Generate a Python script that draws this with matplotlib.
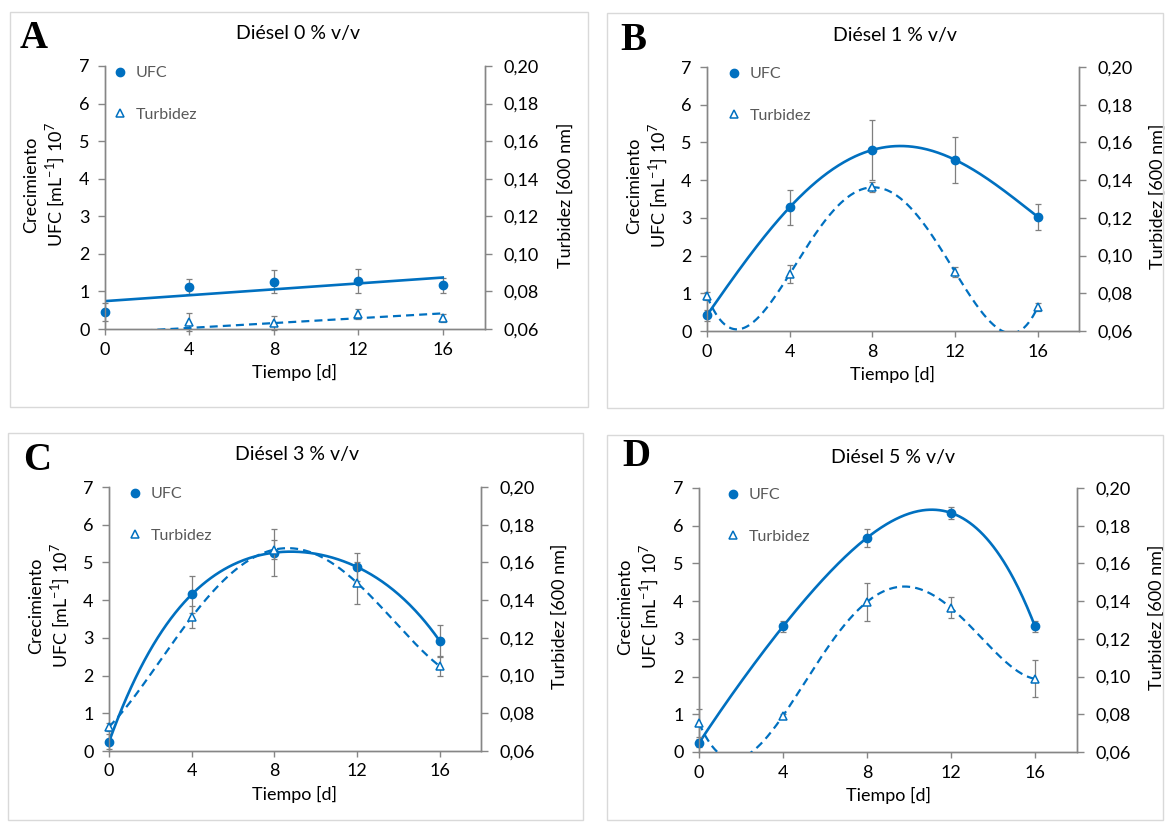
import numpy as np
import matplotlib
matplotlib.use("Agg")
import matplotlib.pyplot as plt
from matplotlib.lines import Line2D
from matplotlib.patches import Rectangle
from matplotlib.ticker import FuncFormatter

plt.rcParams['font.family'] = ['Lato', 'DejaVu Sans']
plt.rcParams['mathtext.fontset'] = 'custom'
plt.rcParams['mathtext.rm'] = 'Lato'

# data
days = [0, 4, 8, 12, 16]
panels = ["A", "B", "C", "D"]
titles = ["Diésel 0 % v/v", "Diésel 1 % v/v", "Diésel 3 % v/v", "Diésel 5 % v/v"]

ufc_A = [0.45, 1.13, 1.26, 1.28, 1.16]
ufc_B = [0.42, 3.28, 4.80, 4.54, 3.03]
ufc_C = [0.24, 4.15, 5.26, 4.88, 2.92]
ufc_D = [0.24, 3.33, 5.68, 6.34, 3.33]

ufc_err_A = [0.25, 0.21, 0.31, 0.31, 0.21]
ufc_err_B = [0.15, 0.47, 0.80, 0.61, 0.35]
ufc_err_C = [0.20, 0.48, 0.63, 0.36, 0.41]
ufc_err_D = [0.10, 0.15, 0.24, 0.15, 0.14]

turb_A = [0.055, 0.0638, 0.0632, 0.0680, 0.0658]
turb_B = [0.0786, 0.0902, 0.1362, 0.0914, 0.0726]
turb_C = [0.0728, 0.1310, 0.1668, 0.1492, 0.1050]
turb_D = [0.0754, 0.0792, 0.1396, 0.1364, 0.0988]

turb_err_A = [0.002, 0.0046, 0.0036, 0.0026, 0.002]
turb_err_B = [0.002, 0.0046, 0.0026, 0.0028, 0.002]
turb_err_C = [0.002, 0.0060, 0.0050, 0.0110, 0.0050]
turb_err_D = [0.0076, 0.001, 0.0100, 0.0056, 0.0098]

fit_order = [1, 4, 4, 4]

ufc_all = [ufc_A, ufc_B, ufc_C, ufc_D]
ufc_err_all = [ufc_err_A, ufc_err_B, ufc_err_C, ufc_err_D]
turb_all = [turb_A, turb_B, turb_C, turb_D]
turb_err_all = [turb_err_A, turb_err_B, turb_err_C, turb_err_D]

W, H = 1166, 823
fig = plt.figure(figsize=(W / 100, H / 100), dpi=100)

# layout in pixels: axes (left, right, top, bottom), box, title, letter, legend x
ax_px = [(105, 485, 66, 329), (707, 1079, 67, 331), (109, 481, 487, 751), (699, 1077, 488, 752)]
box_px = [(10, 12, 588, 407), (607, 13, 1163, 408), (8, 433, 583, 820), (607, 435, 1163, 820)]
title_px = [(298, 33), (895, 35), (297, 455), (893, 457)]
letter_px = [(34, 38), (633, 41), (37, 460), (636, 456)]
leg_x = [0.018, 0.051, 0.048, 0.069]

blue = '#0070C0'
gray = '#7F7F7F'
spine = '#868686'
fs = 13

for i in range(4):
    bx0, by0, bx1, by1 = box_px[i]
    fig.patches.append(Rectangle((bx0 / W, 1 - by1 / H), (bx1 - bx0) / W, (by1 - by0) / H,
                                 transform=fig.transFigure, fill=False,
                                 edgecolor='#D9D9D9', lw=1))
    l, r, t, b = ax_px[i]
    ax = fig.add_axes([l / W, 1 - b / H, (r - l) / W, (b - t) / H])
    ax2 = ax.twinx()

    ufc = np.array(ufc_all[i])
    turb = np.array(turb_all[i])
    xs = np.linspace(0, 16, 300)

    # trend lines
    pu = np.polyfit(days, ufc, fit_order[i])
    ax.plot(xs, np.polyval(pu, xs), color=blue, lw=1.9, zorder=3)
    pt = np.polyfit(days, turb, fit_order[i])
    ax2.plot(xs, np.polyval(pt, xs), color=blue, lw=1.6, ls=(0, (3.6, 2.3)), zorder=3)

    # error bars and markers
    ax.errorbar(days, ufc, yerr=ufc_err_all[i], fmt='none', ecolor=gray, elinewidth=0.9,
                capsize=2.5, capthick=0.9, zorder=2, clip_on=False)
    ax.plot(days, ufc, 'o', color=blue, ms=6, zorder=4, clip_on=False)
    vis = turb >= 0.06
    td = np.array(days)[vis]
    ax2.errorbar(td, turb[vis], yerr=np.array(turb_err_all[i])[vis], fmt='none', ecolor=gray,
                 elinewidth=0.9, capsize=2.5, capthick=0.9, zorder=2, clip_on=False)
    ax2.plot(td, turb[vis], '^', mfc='white', mec=blue, mew=1.1, ms=5.5, zorder=4, clip_on=False)

    ax.set_xlim(0, 18)
    ax.set_ylim(0, 7)
    ax2.set_ylim(0.06, 0.20)
    ax.set_xticks(days)
    ax.set_yticks(range(8))
    ax2.set_yticks(np.arange(0.06, 0.201, 0.02))
    ax2.yaxis.set_major_formatter(FuncFormatter(lambda v, p: f"{v:.2f}".replace('.', ',')))

    for a in (ax, ax2):
        for s in a.spines.values():
            s.set_color(spine)
            s.set_linewidth(1)
        a.spines['top'].set_visible(False)
        a.tick_params(colors=spine, labelcolor='black', labelsize=fs, length=5, width=1)
    ax.tick_params(axis='y', pad=6)
    ax.tick_params(axis='x', length=4, pad=5)
    ax2.tick_params(axis='y', pad=8)

    ax.set_xlabel("Tiempo [d]", fontsize=fs, labelpad=5)
    ax.text(-0.195, 0.55, "Crecimiento", transform=ax.transAxes, rotation=90,
            fontsize=fs, ha='center', va='center')
    ax.text(-0.131, 0.55, "UFC [mL$^{-1}$] 10$^{7}$", transform=ax.transAxes, rotation=90,
            fontsize=fs, ha='center', va='center')
    ax2.set_ylabel("Turbidez [600 nm]", fontsize=fs)
    ax2.yaxis.set_label_coords(1.19, 0.51)

    handles = [Line2D([], [], ls='none', marker='o', color=blue, ms=6),
               Line2D([], [], ls='none', marker='^', mfc='white', mec=blue, mew=1.1, ms=5.5)]
    ax2.legend(handles, ["UFC", "Turbidez"], loc='upper left', bbox_to_anchor=(leg_x[i], 1.0),
               frameon=False, fontsize=11.5, labelcolor='#595959', handlelength=1.0,
               handletextpad=0.5, labelspacing=1.7, borderpad=0, borderaxespad=0)

    fig.text(title_px[i][0] / W, 1 - title_px[i][1] / H, titles[i], fontsize=14,
             ha='center', va='center')
    fig.text(letter_px[i][0] / W, 1 - letter_px[i][1] / H, panels[i], fontsize=28,
             fontweight='bold', family='Liberation Serif', ha='center', va='center')

fig.savefig("out.png", dpi=100)
